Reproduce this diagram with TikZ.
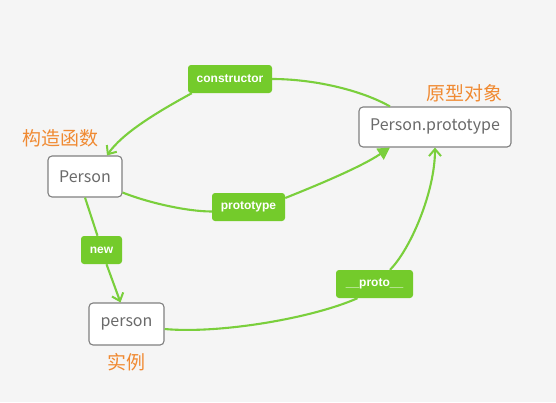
\documentclass[tikz,border=0pt]{standalone}
\usepackage{fontspec}
\setmainfont{Liberation Sans}
\newfontfamily\cjk{Noto Sans CJK SC}
\usetikzlibrary{arrows.meta}
\definecolor{bg}{HTML}{F5F5F5}
\definecolor{gr}{HTML}{74CB2B}
\definecolor{ln}{HTML}{7ACF3C}
\definecolor{org}{HTML}{F08A32}
\definecolor{txt}{HTML}{6A6A6A}
\definecolor{bd}{HTML}{808080}
\begin{document}
\begin{tikzpicture}[x=1pt,y=-1pt,
 obj/.style={draw=bd, line width=1.1pt, fill=white, rounded corners=4pt, minimum height=41pt, text=txt, font=\cjk\fontsize{16}{19}\selectfont, inner sep=0pt},
 tag/.style={fill=gr, rounded corners=3pt, minimum height=28pt, text=white, font=\bfseries\fontsize{12}{14}\selectfont, inner sep=0pt},
 note/.style={text=org, font=\cjk\fontsize{19}{22}\selectfont, inner sep=0pt},
 link/.style={draw=ln, line width=2.1pt},
 vtip/.style={-{Straight Barb[length=7pt,width=12pt,line width=2pt]}},
 ftip/.style={-{Triangle[length=12pt,width=13pt]}}
]
\fill[bg] (0,0) rectangle (556,402);
\node[obj,minimum width=74pt] (P) at (85,176.5) {Person};
\node[obj,minimum width=152pt,minimum height=40pt] (PP) at (435,127) {Person.prototype};
\node[obj,minimum width=75pt,minimum height=42pt] (p) at (126.5,324) {person};
\node[tag,minimum width=84pt] (c) at (230,79) {constructor};
\node[tag,minimum width=73pt] (pt) at (248.5,207) {prototype};
\node[tag,minimum width=41pt] (n) at (101.5,250) {new};
\node[tag,minimum width=77pt] (pr) at (374.5,284) {\_\_proto\_\_};
\node[note] (n1) at (60,138) {构造函数};
\node[note] (n2) at (464,93) {原型对象};
\node[note] (n3) at (126,362) {实例};
% constructor
\draw[link] ([xshift=-45pt]PP.north) .. controls +(-30,-17) and +(40,0) .. (c.east);
\draw[link,vtip] ([xshift=4pt]c.south west) .. controls +(-35,19) and +(15,-22) .. ([xshift=22pt]P.north);
% prototype
\draw[link] ([yshift=-16pt]P.east) .. controls +(25,10) and +(-25,0) .. ([yshift=-4.5pt]pt.west);
\draw[link,ftip] ([yshift=9pt]pt.east) .. controls +(30,-12) and +(-30,20) .. ([xshift=-45pt]PP.south);
% new
\draw[link] (P.south) -- ([xshift=-4pt]n.north);
\draw[link,vtip] ([xshift=5pt]n.south) -- ([xshift=-6pt]p.north);
% __proto__
\draw[link] ([yshift=-5pt]p.east) .. controls +(55,5) and +(-45,20) .. ([xshift=-17pt]pr.south);
\draw[link,vtip] ([xshift=15.5pt]pr.north) .. controls +(20,-20) and +(0,45) .. (PP.south);
\end{tikzpicture}
\end{document}
